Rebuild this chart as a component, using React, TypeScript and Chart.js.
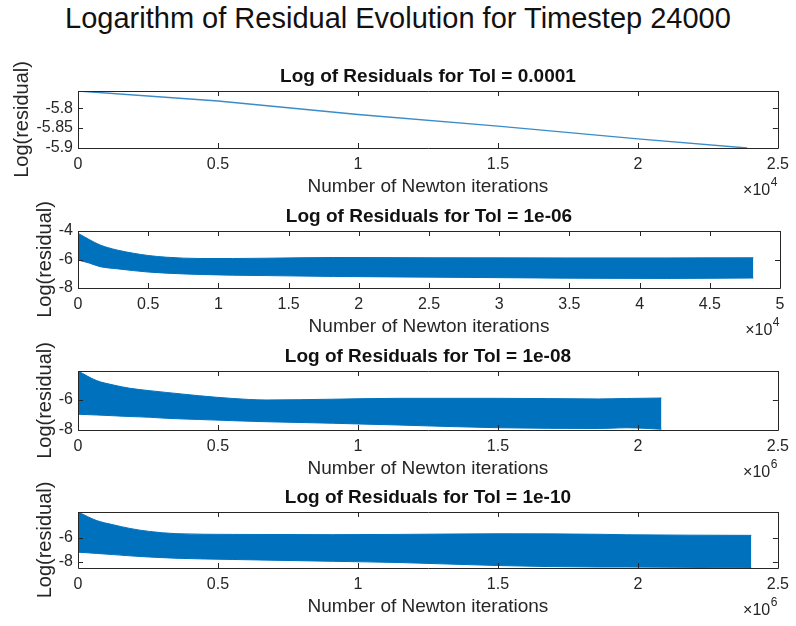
import React, { useEffect, useRef } from "react";
import { Chart, registerables } from "chart.js";

Chart.register(...registerables);

const FONT = "'Liberation Sans', Arial, Helvetica, sans-serif";
const AXIS_COLOR = "#262626";
const BAND_COLOR = "#0072BD";

const MAIN_TITLE = "Logarithm of Residual Evolution for Timestep 24000";
const X_LABEL = "Number of Newton iterations";
const Y_LABEL = "Log(residual)";

// Tol = 0.0001 : single residual trace
const tol4Iter = [0, 5000, 10000, 15000, 20000, 23900];
const tol4Log = [-5.757, -5.782, -5.816, -5.845, -5.877, -5.9];

// Tol = 1e-06 : upper / lower envelope of the oscillating residual
const tol6Iter = [0, 800, 1570, 2760, 3940, 5000, 6320, 8700, 11000, 13450, 18200, 25300, 34800, 41900, 48100];
const tol6Upper = [-4.16, -4.6, -4.98, -5.33, -5.56, -5.72, -5.84, -5.93, -5.93, -5.91, -5.86, -5.88, -5.89, -5.89, -5.88];
const tol6Lower = [-6.03, -6.25, -6.5, -6.65, -6.78, -6.88, -6.96, -7.05, -7.1, -7.13, -7.19, -7.24, -7.31, -7.33, -7.3];

// Tol = 1e-08
const tol8Iter = [0, 66500, 126000, 185000, 256000, 316000, 434000, 553000, 672000, 909000, 1147000, 1503000, 1859000, 1960000, 2084000];
const tol8Upper = [-4.07, -4.71, -5.0, -5.22, -5.38, -5.5, -5.72, -5.9, -6.0, -5.95, -5.89, -5.89, -5.93, -5.9, -5.87];
const tol8Lower = [-6.95, -7.0, -7.05, -7.1, -7.15, -7.22, -7.3, -7.38, -7.45, -7.55, -7.67, -7.85, -7.9, -7.85, -7.95];

// Tol = 1e-10
const tol10Iter = [0, 66500, 126000, 185000, 256000, 350000, 553000, 909000, 1147000, 1503000, 1859000, 1960000, 2405000];
const tol10Upper = [-3.9, -4.6, -4.95, -5.25, -5.5, -5.68, -5.74, -5.76, -5.74, -5.69, -5.73, -5.77, -5.82];
const tol10Lower = [-7.2, -7.3, -7.4, -7.5, -7.6, -7.7, -7.8, -7.95, -8.05, -8.3, -8.42, -8.42, -8.5];

// Tick positions
const xTicksA = [0, 5000, 10000, 15000, 20000, 25000];
const xTicksB = [0, 5000, 10000, 15000, 20000, 25000, 30000, 35000, 40000, 45000, 50000];
const xTicksC = [0, 500000, 1000000, 1500000, 2000000, 2500000];
const yTicksTol4 = [-5.9, -5.85, -5.8];
const yTicksTol6 = [-8, -6, -4];
const yTicksLow = [-8, -6];

type PanelSpec = {
  title: string;
  iter: number[];
  upper: number[];
  lower?: number[];
  xMax: number;
  xTicks: number[];
  xScale: number;
  exponent: string;
  yMin: number;
  yMax: number;
  yTicks: number[];
  boxTop: number;
  boxHeight: number;
  yTitleOffset: number;
};

const TITLE_BOX = 40;
const X_AXIS_BOX = 50;

const fmt = (v: number) => String(parseFloat(v.toFixed(3)));

const panels: PanelSpec[] = [
  {
    title: "Log of Residuals for Tol = 0.0001",
    iter: tol4Iter,
    upper: tol4Log,
    xMax: 25000,
    xTicks: xTicksA,
    xScale: 1e4,
    exponent: "4",
    yMin: -5.9,
    yMax: -5.757,
    yTicks: yTicksTol4,
    boxTop: 91,
    boxHeight: 57,
    yTitleOffset: 10,
  },
  {
    title: "Log of Residuals for Tol = 1e-06",
    iter: tol6Iter,
    upper: tol6Upper,
    lower: tol6Lower,
    xMax: 50000,
    xTicks: xTicksB,
    xScale: 1e4,
    exponent: "4",
    yMin: -8,
    yMax: -4,
    yTicks: yTicksTol6,
    boxTop: 231,
    boxHeight: 57,
    yTitleOffset: 33,
  },
  {
    title: "Log of Residuals for Tol = 1e-08",
    iter: tol8Iter,
    upper: tol8Upper,
    lower: tol8Lower,
    xMax: 2500000,
    xTicks: xTicksC,
    xScale: 1e6,
    exponent: "6",
    yMin: -8,
    yMax: -4.07,
    yTicks: yTicksLow,
    boxTop: 371,
    boxHeight: 59,
    yTitleOffset: 33,
  },
  {
    title: "Log of Residuals for Tol = 1e-10",
    iter: tol10Iter,
    upper: tol10Upper,
    lower: tol10Lower,
    xMax: 2500000,
    xTicks: xTicksC,
    xScale: 1e6,
    exponent: "6",
    yMin: -8.5,
    yMax: -3.9,
    yTicks: yTicksLow,
    boxTop: 512,
    boxHeight: 56,
    yTitleOffset: 33,
  },
];

// Box outline, inward tick marks on all four sides and the "x10^n" multiplier
const matlabAxes = {
  id: "matlabAxes",
  afterDraw(chart: any, _args: any, opts: any) {
    const { ctx, chartArea } = chart;
    const { left, right, top, bottom } = chartArea;
    const xs = chart.scales.x;
    const ys = chart.scales.y;
    const tl = 5;
    ctx.save();
    ctx.strokeStyle = AXIS_COLOR;
    ctx.lineWidth = 1;
    ctx.beginPath();
    ctx.rect(Math.round(left) + 0.5, Math.round(top) + 0.5, Math.round(right - left), Math.round(bottom - top));
    xs.ticks.forEach((t: any) => {
      const px = Math.round(xs.getPixelForValue(t.value)) + 0.5;
      ctx.moveTo(px, bottom);
      ctx.lineTo(px, bottom - tl);
      ctx.moveTo(px, top);
      ctx.lineTo(px, top + tl);
    });
    ys.ticks.forEach((t: any) => {
      const py = Math.round(ys.getPixelForValue(t.value)) + 0.5;
      ctx.moveTo(left, py);
      ctx.lineTo(left + tl, py);
      ctx.moveTo(right, py);
      ctx.lineTo(right - tl, py);
    });
    ctx.stroke();

    // exponent label
    ctx.fillStyle = AXIS_COLOR;
    ctx.textBaseline = "middle";
    ctx.textAlign = "left";
    ctx.font = `16px ${FONT}`;
    const base = "\u00d710";
    const wBase = ctx.measureText(base).width;
    ctx.font = `12px ${FONT}`;
    const wSup = ctx.measureText(opts.exponent).width;
    const x0 = right - 1 - wBase - wSup;
    ctx.font = `16px ${FONT}`;
    ctx.fillText(base, x0, bottom + 43);
    ctx.font = `12px ${FONT}`;
    ctx.fillText(opts.exponent, x0 + wBase + 0.5, bottom + 35);
    ctx.restore();
  },
};

function Panel({ spec }: { spec: PanelSpec }) {
  const ref = useRef<HTMLCanvasElement>(null);
  const height = TITLE_BOX + spec.boxHeight + X_AXIS_BOX;

  useEffect(() => {
    const toPts = (ys: number[]) => spec.iter.map((x, i) => ({ x, y: ys[i] }));
    const datasets: any[] = [];
    if (spec.lower) {
      datasets.push({
        data: toPts(spec.upper),
        borderColor: BAND_COLOR,
        backgroundColor: BAND_COLOR,
        borderWidth: 1,
        pointRadius: 0,
        fill: "+1",
        cubicInterpolationMode: "monotone",
      });
      datasets.push({
        data: toPts(spec.lower),
        borderColor: BAND_COLOR,
        borderWidth: 1,
        pointRadius: 0,
        fill: false,
        cubicInterpolationMode: "monotone",
      });
    } else {
      datasets.push({
        data: toPts(spec.upper),
        borderColor: "#3a8cc8",
        borderWidth: 1.4,
        pointRadius: 0,
        fill: false,
      });
    }

    const chart = new Chart(ref.current!, {
      type: "line",
      data: { datasets },
      plugins: [matlabAxes],
      options: {
        animation: false,
        responsive: false,
        devicePixelRatio: 1,
        layout: { padding: { left: 0, right: 16, top: 0, bottom: 0 } },
        plugins: {
          legend: { display: false },
          tooltip: { enabled: false },
          title: {
            display: true,
            fullSize: false,
            text: spec.title,
            color: "#111111",
            font: { family: FONT, size: 19, weight: "bold", lineHeight: 1.2 },
            padding: { top: 14, bottom: TITLE_BOX - 14 - 22.8 },
          },
          matlabAxes: { exponent: spec.exponent },
        } as any,
        scales: {
          x: {
            type: "linear",
            min: 0,
            max: spec.xMax,
            grid: { display: false, drawTicks: false, tickLength: 0 },
            border: { display: false },
            afterBuildTicks: (s: any) => {
              s.ticks = spec.xTicks.map((v) => ({ value: v }));
            },
            afterFit: (s: any) => {
              s.height = X_AXIS_BOX;
            },
            ticks: {
              color: AXIS_COLOR,
              font: { family: FONT, size: 16 },
              padding: 7,
              maxRotation: 0,
              autoSkip: false,
              callback: (v: any) => fmt(Number(v) / spec.xScale),
            },
            title: {
              display: true,
              text: X_LABEL,
              color: AXIS_COLOR,
              font: { family: FONT, size: 19, lineHeight: 1.2 },
              padding: { top: 0, bottom: 0 },
            },
          },
          y: {
            type: "linear",
            min: spec.yMin,
            max: spec.yMax,
            grid: { display: false, drawTicks: false, tickLength: 0 },
            border: { display: false },
            afterBuildTicks: (s: any) => {
              s.ticks = spec.yTicks
                .filter((v) => v >= spec.yMin - 1e-9 && v <= spec.yMax + 1e-9)
                .map((v) => ({ value: v }));
            },
            afterFit: (s: any) => {
              s.width = 78;
            },
            ticks: {
              color: AXIS_COLOR,
              font: { family: FONT, size: 16 },
              padding: 5,
              autoSkip: false,
              callback: (v: any) => fmt(Number(v)),
            },
            title: {
              display: true,
              text: Y_LABEL,
              color: AXIS_COLOR,
              font: { family: FONT, size: 20, lineHeight: 1.2 },
              padding: { top: spec.yTitleOffset, bottom: 0 },
            },
          },
        },
      } as any,
    });
    return () => chart.destroy();
  }, [spec]);

  return (
    <canvas
      ref={ref}
      width={796}
      height={height}
      style={{ position: "absolute", left: 0, top: spec.boxTop - TITLE_BOX, width: 796, height }}
    />
  );
}

export default function App() {
  return (
    <div
      style={{
        position: "absolute",
        left: 0,
        top: 0,
        width: 796,
        height: 626,
        background: "#ffffff",
        overflow: "hidden",
      }}
    >
      <div
        style={{
          position: "absolute",
          left: 0,
          top: 0,
          width: 796,
          textAlign: "center",
          fontFamily: FONT,
          fontSize: 29,
          lineHeight: "36px",
          color: "#111111",
        }}
      >
        {MAIN_TITLE}
      </div>
      {panels.map((p) => (
        <Panel key={p.title} spec={p} />
      ))}
    </div>
  );
}
